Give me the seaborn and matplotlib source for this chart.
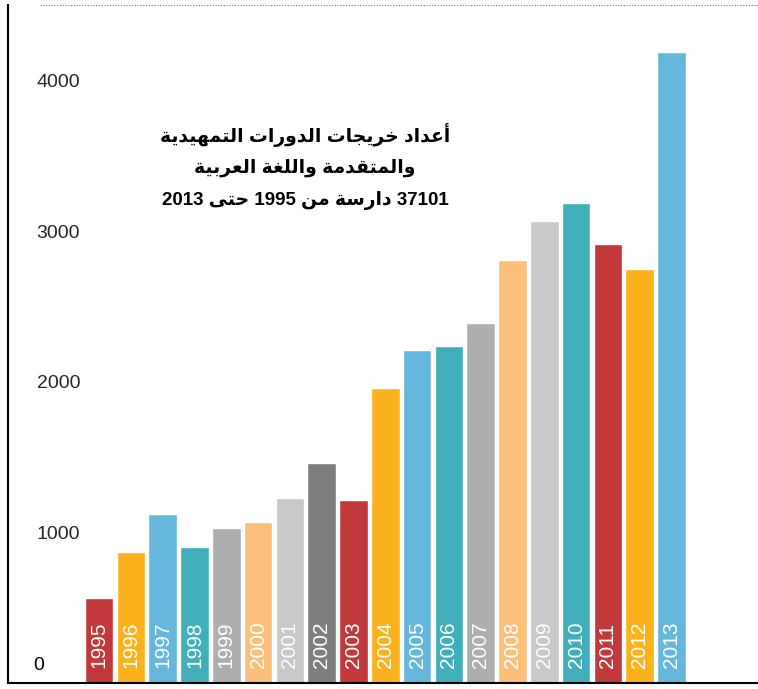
import re
import matplotlib
matplotlib.use("Agg")
import matplotlib.pyplot as plt
import seaborn as sns
import pandas as pd

# Datos
anios = ["1995", "1996", "1997", "1998", "1999", "2000", "2001", "2002", "2003", "2004",
         "2005", "2006", "2007", "2008", "2009", "2010", "2011", "2012", "2013"]
graduadas = [563, 868, 1119, 901, 1026, 1066, 1225, 1457, 1212, 1960,
             2212, 2238, 2391, 2808, 3066, 3185, 2914, 2748, 4185]
colores = ["#C1393B", "#FCB21C", "#65B8DC", "#40AFBA", "#ADAEB0", "#FAC07B", "#C8C9CB",
           "#7D7E80", "#C1393B", "#FCB21C", "#65B8DC", "#40AFBA", "#ADAEB0", "#FAC07B",
           "#C8C9CB", "#40AFBA", "#C1393B", "#FCB21C", "#65B8DC"]
titulo = ["أعداد خريجات الدورات التمهيدية",
          "والمتقدمة واللغة العربية",
          "37101 دارسة من 1995 حتى 2013"]
yticks = [0, 1000, 2000, 3000, 4000, 4500]
ytick_labels = ["", "1000", "2000", "3000", "4000", ""]

# Formas de presentación árabe: (aislada, final, inicial, media)
FORMAS = {
    "ا": ("\uFE8D", "\uFE8E", None, None),
    "أ": ("\uFE83", "\uFE84", None, None),
    "ب": ("\uFE8F", "\uFE90", "\uFE91", "\uFE92"),
    "ة": ("\uFE93", "\uFE94", None, None),
    "ت": ("\uFE95", "\uFE96", "\uFE97", "\uFE98"),
    "ج": ("\uFE9D", "\uFE9E", "\uFE9F", "\uFEA0"),
    "ح": ("\uFEA1", "\uFEA2", "\uFEA3", "\uFEA4"),
    "خ": ("\uFEA5", "\uFEA6", "\uFEA7", "\uFEA8"),
    "د": ("\uFEA9", "\uFEAA", None, None),
    "ر": ("\uFEAD", "\uFEAE", None, None),
    "س": ("\uFEB1", "\uFEB2", "\uFEB3", "\uFEB4"),
    "ع": ("\uFEC9", "\uFECA", "\uFECB", "\uFECC"),
    "غ": ("\uFECD", "\uFECE", "\uFECF", "\uFED0"),
    "ق": ("\uFED5", "\uFED6", "\uFED7", "\uFED8"),
    "ل": ("\uFEDD", "\uFEDE", "\uFEDF", "\uFEE0"),
    "م": ("\uFEE1", "\uFEE2", "\uFEE3", "\uFEE4"),
    "ن": ("\uFEE5", "\uFEE6", "\uFEE7", "\uFEE8"),
    "ه": ("\uFEE9", "\uFEEA", "\uFEEB", "\uFEEC"),
    "و": ("\uFEED", "\uFEEE", None, None),
    "ى": ("\uFEEF", "\uFEF0", None, None),
    "ي": ("\uFEF1", "\uFEF2", "\uFEF3", "\uFEF4"),
}


def arabe(texto):
    salida = []
    for k, c in enumerate(texto):
        if c not in FORMAS:
            salida.append(c)
            continue
        prev = texto[k - 1] if k > 0 else ""
        sig = texto[k + 1] if k + 1 < len(texto) else ""
        une_prev = prev in FORMAS and FORMAS[prev][2] is not None
        une_sig = FORMAS[c][2] is not None and sig in FORMAS
        if une_prev and une_sig:
            salida.append(FORMAS[c][3])
        elif une_prev:
            salida.append(FORMAS[c][1])
        elif une_sig:
            salida.append(FORMAS[c][2])
        else:
            salida.append(FORMAS[c][0])
    visual = "".join(salida)[::-1]
    return re.sub(r"\d+", lambda m: m.group(0)[::-1], visual)


df = pd.DataFrame({"anio": anios, "valor": graduadas})

sns.set_style("white")
plt.rcParams["font.family"] = ["Liberation Sans", "DejaVu Sans"]

fig = plt.figure(figsize=(7.58, 6.89), dpi=100)
ax = fig.add_axes([7.5 / 758, 6 / 689, 1 - 7.5 / 758, 678 / 689])

sns.barplot(data=df, x="anio", y="valor", hue="anio", palette=colores,
            width=0.9, legend=False, saturation=1, ax=ax)

# Años dentro de las barras
for i, a in enumerate(anios):
    ax.text(i, 15 / 678, a, transform=ax.get_xaxis_transform(), rotation=90,
            ha="center", va="bottom", color="white", fontsize=15)

ax.set_xlim(-2.88, 20.72)
ax.set_ylim(0, 4500)
ax.set_xlabel("")
ax.set_ylabel("")
ax.set_xticks([])
ax.set_yticks(yticks)
ax.set_yticklabels(ytick_labels, fontsize=14)
ax.tick_params(axis="y", direction="in", length=7, width=1.5, color="black", pad=-21)
for lbl in ax.get_yticklabels():
    lbl.set_horizontalalignment("left")

# Etiqueta del cero, algo por encima de la base
ax.text(31.5 / 750.5, 17 / 678, "0", transform=ax.transAxes, ha="center", va="center",
        fontsize=14, color="black")

for lado in ["top", "right"]:
    ax.spines[lado].set_visible(False)
for lado in ["left", "bottom"]:
    ax.spines[lado].set_color("black")
    ax.spines[lado].set_linewidth(1.5)

ax.axhline(4500, xmin=32 / 750, xmax=1, color="#777777", ls=(0, (1, 1.5)), lw=0.8, clip_on=False)

# Título
for j, linea in enumerate(titulo):
    fig.text(305 / 758, 1 - (135 + 33 * j) / 689, arabe(linea), ha="center", va="center",
             fontsize=13.5, fontweight="bold", color="black")

fig.savefig("out.png", dpi=100)
